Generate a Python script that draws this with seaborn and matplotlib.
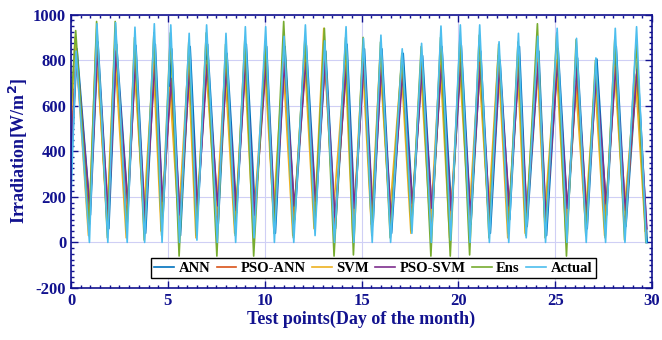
import matplotlib
matplotlib.use("Agg")
import matplotlib.pyplot as plt
import pandas as pd
import seaborn as sns
from matplotlib.ticker import MultipleLocator

# time (day of month) of each daily peak and each night-time low
peak_t = [0.26, 1.34, 2.3, 3.3, 4.3, 5.15, 6.1, 7.0, 8.0, 9.0, 10.05, 11.0, 12.1, 13.1, 14.2,
          15.1, 16.0, 17.1, 18.1, 19.1, 20.1, 21.1, 22.1, 23.1, 24.1, 25.1, 26.1, 27.1, 28.1, 29.2]
trough_t = [0.95, 1.9, 2.9, 3.8, 4.7, 5.6, 6.5, 7.55, 8.5, 9.45, 10.5, 11.5, 12.6, 13.6, 14.6,
            15.55, 16.5, 17.6, 18.6, 19.6, 20.6, 21.6, 22.6, 23.5, 24.5, 25.6, 26.6, 27.6, 28.6, 29.7]

models = ["ANN", "PSO-ANN", "SVM", "PSO-SVM", "Ens", "Actual"]
colors = ["#0072BD", "#D95319", "#EDB120", "#7E2F8E", "#77AC30", "#4DBEEE"]

start_vals = {"ANN": 300, "PSO-ANN": 420, "SVM": 520, "PSO-SVM": 380, "Ens": 600, "Actual": 200}

peaks = {
    "ANN": [850, 880, 870, 865, 870, 850, 860, 870, 830, 870, 860, 860, 865, 840, 870,
            850, 850, 830, 820, 860, 865, 840, 800, 860, 840, 850, 810, 805, 860, 790],
    "PSO-ANN": [830, 830, 830, 780, 780, 700, 760, 780, 760, 800, 790, 790, 800, 800, 770,
                790, 780, 770, 770, 780, 810, 790, 770, 770, 800, 790, 720, 730, 770, 740],
    "SVM": [900, 880, 850, 800, 790, 680, 790, 800, 760, 800, 780, 790, 820, 940, 800,
            800, 800, 770, 760, 800, 790, 780, 820, 780, 810, 800, 700, 700, 780, 720],
    "PSO-SVM": [830, 850, 840, 790, 780, 720, 760, 780, 760, 800, 790, 790, 790, 800, 780,
                790, 770, 740, 760, 780, 790, 780, 770, 770, 790, 790, 760, 740, 770, 760],
    "Ens": [930, 970, 970, 900, 920, 920, 880, 920, 870, 900, 880, 970, 900, 940, 900,
            900, 880, 830, 860, 900, 900, 910, 870, 880, 960, 920, 890, 800, 900, 880],
    "Actual": [840, 960, 965, 945, 960, 955, 918, 955, 918, 947, 947, 905, 955, 885, 947,
               896, 910, 850, 874, 950, 955, 955, 881, 918, 905, 940, 896, 810, 940, 947],
}

troughs = {
    "ANN": [120, 60, 150, 40, 120, 30, 140, 80, 130, 150, 40, 100, 150, 60, 130,
            90, 40, 150, 110, 130, 80, 40, 100, 70, 30, 110, 60, 120, 70, 0],
    "PSO-ANN": [80, 50, 90, 60, 100, 50, 110, 70, 100, 80, 60, 90, 100, 50, 90,
                70, 60, 100, 80, 90, 70, 50, 90, 60, 50, 80, 60, 90, 60, 20],
    "SVM": [30, 100, 20, 120, 50, 90, 20, 120, 40, 60, 130, 30, 60, 140, 20,
            80, 120, 40, 60, 20, 100, 120, 20, 40, 110, 40, 100, 30, 120, 50],
    "PSO-SVM": [140, 110, 170, 100, 180, 120, 150, 160, 140, 120, 100, 160, 180, 110, 150,
                130, 100, 170, 150, 140, 120, 100, 160, 130, 90, 150, 120, 170, 140, 60],
    "Ens": [60, 20, 40, 10, 30, -60, 30, -60, 30, -60, 40, 20, 60, -60, -55,
            30, 20, 50, -60, -60, -55, 20, 40, 30, 20, -60, 30, 20, 10, 0],
    "Actual": [0, 0, 0, 0, 0, 0, 10, 0, 0, 20, 0, 0, 30, 0, 0,
               0, 0, 40, 0, 10, 0, 0, 0, 20, 0, 0, 0, 0, 0, 0],
}

# small timing lag between the model outputs
lag = {"ANN": 0.05, "PSO-ANN": 0.0, "SVM": -0.05, "PSO-SVM": 0.03, "Ens": -0.02, "Actual": 0.0}

rows = []
for m in models:
    rows.append((m, 0.0, start_vals[m]))
    for k in range(len(peak_t)):
        rows.append((m, peak_t[k] + lag[m], peaks[m][k]))
        rows.append((m, trough_t[k] + lag[m], troughs[m][k]))
df = pd.DataFrame(rows, columns=["model", "t", "value"])

navy = "#12128f"
plt.rcParams["font.family"] = ["Liberation Serif", "DejaVu Serif"]
plt.rcParams["font.weight"] = "bold"
plt.rcParams["axes.unicode_minus"] = False

fig = plt.figure(figsize=(6.62, 3.40), dpi=100)
ax = fig.add_axes([0.1073, 0.153, 0.8777, 0.804])

sns.lineplot(data=df, x="t", y="value", hue="model", hue_order=models,
             palette=colors, estimator=None, sort=True, linewidth=1.2, ax=ax, legend=False)

ax.set_xlim(0, 30)
ax.set_ylim(-200, 1000)
ax.xaxis.set_major_locator(MultipleLocator(5))
ax.xaxis.set_minor_locator(MultipleLocator(0.5))
ax.yaxis.set_major_locator(MultipleLocator(200))
ax.yaxis.set_minor_locator(MultipleLocator(25))
ax.grid(True, which="major", color="#cfcff5", linewidth=0.8)
ax.set_axisbelow(True)
ax.tick_params(which="both", direction="in", top=True, right=True, colors=navy,
               labelsize=12, width=1)
ax.tick_params(which="major", length=5)
ax.tick_params(which="minor", length=2.5)
for lab in ax.get_xticklabels() + ax.get_yticklabels():
    lab.set_fontweight("bold")
for sp in ax.spines.values():
    sp.set_color(navy)
    sp.set_linewidth(1.2)

ax.set_xlabel("Test points(Day of the month)", fontsize=13, fontweight="bold", color=navy, labelpad=1)
ax.set_ylabel("Irradiation[W/m$^\\mathbf{2}$]", fontsize=13, fontweight="bold", color=navy, labelpad=2)

handles = [plt.Line2D([], [], color=c, linewidth=1.2) for c in colors]
lg = ax.legend(handles, models, loc="lower center", bbox_to_anchor=(0.52, 0.035), ncol=6,
               frameon=True, fancybox=False, edgecolor="black", framealpha=1,
               prop={"weight": "bold", "size": 10.5}, handlelength=1.35, handletextpad=0.3,
               columnspacing=0.45, borderpad=0.25, borderaxespad=0)
lg.get_frame().set_linewidth(1.0)

fig.savefig("out.png", dpi=100)
